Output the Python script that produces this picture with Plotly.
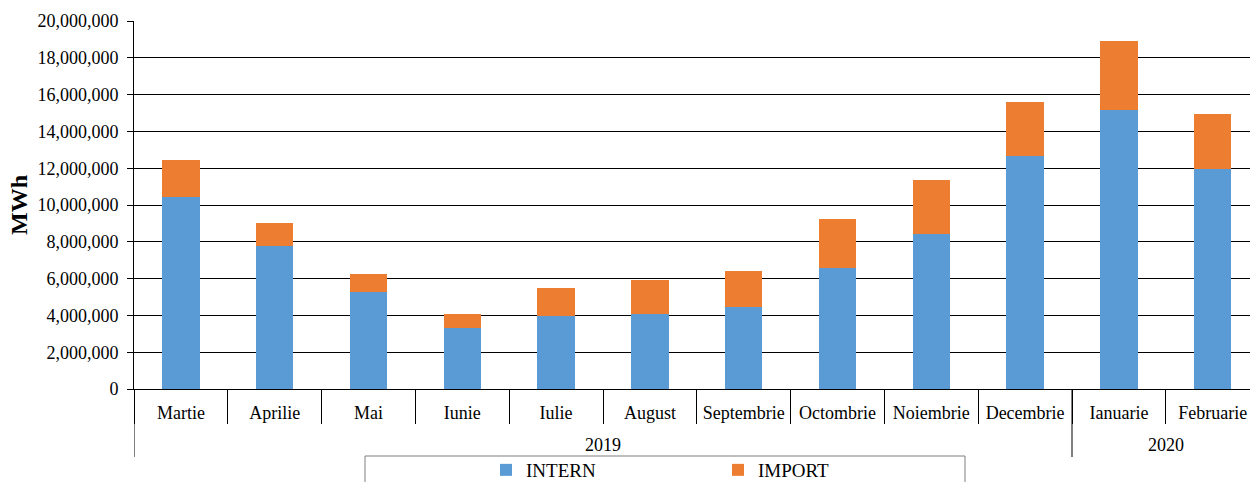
import plotly.graph_objects as go

# ---- data ----
months = ["Martie", "Aprilie", "Mai", "Iunie", "Iulie", "August", "Septembrie",
          "Octombrie", "Noiembrie", "Decembrie", "Ianuarie", "Februarie"]
month_year = ["2019", "2019", "2019", "2019", "2019", "2019", "2019",
              "2019", "2019", "2019", "2020", "2020"]
intern = [10420000, 7770000, 5290000, 3330000, 3970000, 4060000, 4440000,
          6590000, 8410000, 12640000, 15180000, 11940000]
import_ = [2030000, 1270000, 960000, 760000, 1540000, 1860000, 1970000,
           2650000, 2970000, 2960000, 3750000, 3010000]
y_ticks = [0, 2000000, 4000000, 6000000, 8000000, 10000000, 12000000,
           14000000, 16000000, 18000000, 20000000]

FONT = "Times New Roman, Liberation Serif, serif"
BLUE = "#5B9BD5"
ORANGE = "#ED7D31"

W, H = 1250, 482
ML, MT, MB = 134, 21, 93
plot_h = H - MT - MB
slot = 93.8
x_end = -0.5 + (W - ML) / slot

fig = go.Figure()
fig.add_trace(go.Bar(x=months, y=intern, name="INTERN",
                     marker=dict(color=BLUE, line=dict(width=0))))
fig.add_trace(go.Bar(x=months, y=import_, name="IMPORT",
                     marker=dict(color=ORANGE, line=dict(width=0))))


def py(pix):
    """pixel row -> paper y"""
    return (H - MB - pix) / plot_h


shapes = []
annotations = []
# year group dividers and labels
groups = []
for i, yr in enumerate(month_year):
    if not groups or groups[-1][0] != yr:
        groups.append([yr, i, i])
    else:
        groups[-1][2] = i
for yr, i0, i1 in groups:
    shapes.append(dict(type="line", xref="x", yref="paper",
                       x0=i0 - 0.5, x1=i0 - 0.5, y0=0, y1=py(457),
                       line=dict(color="black", width=1)))
    annotations.append(dict(xref="x", yref="paper", x=(i0 + i1) / 2, y=py(445),
                            text=yr, showarrow=False, yanchor="middle",
                            font=dict(family=FONT, size=18, color="black")))
# legend frame
shapes.append(dict(type="rect", xref="paper", yref="paper",
                   x0=(365 - ML) / (W - ML), x1=(965 - ML) / (W - ML),
                   y0=py(456), y1=py(500),
                   line=dict(color="#7f7f7f", width=1), fillcolor="rgba(0,0,0,0)"))

fig.update_layout(
    width=W, height=H,
    barmode="stack", bargap=0.6,
    plot_bgcolor="white", paper_bgcolor="white",
    margin=dict(l=ML, r=0, t=MT, b=MB, autoexpand=False),
    font=dict(family=FONT, size=18, color="black"),
    shapes=shapes, annotations=annotations,
    showlegend=True,
    legend=dict(orientation="h", xref="paper", yref="paper",
                x=(486 - ML) / (W - ML), xanchor="left",
                y=py(470), yanchor="middle",
                font=dict(family=FONT, size=19, color="black"),
                itemwidth=30, entrywidth=187, entrywidthmode="pixels",
                bgcolor="rgba(0,0,0,0)", traceorder="normal"),
    xaxis=dict(type="category", range=[-0.5, x_end],
               showline=True, linecolor="black", linewidth=1,
               ticks="outside", tickson="boundaries", ticklen=34,
               tickcolor="black", tickwidth=1,
               ticklabelstandoff=7,
               tickfont=dict(family=FONT, size=18, color="black"),
               showgrid=False, automargin=False),
    yaxis=dict(range=[0, 20000000], tickvals=y_ticks, tickformat=",d",
               showline=True, linecolor="black", linewidth=1,
               ticks="outside", ticklen=6, tickcolor="black",
               ticklabelstandoff=5,
               showgrid=True, gridcolor="black", gridwidth=1,
               zeroline=False,
               tickfont=dict(family=FONT, size=18, color="black"),
               title=dict(text="<b>MWh</b>", standoff=3,
                          font=dict(family=FONT, size=24, color="black")),
               automargin=False),
)

fig.write_html("out.html",
               config={"displayModeBar": False},
               post_script="document.body.style.margin='0';"
                           "document.body.style.overflow='hidden';")
